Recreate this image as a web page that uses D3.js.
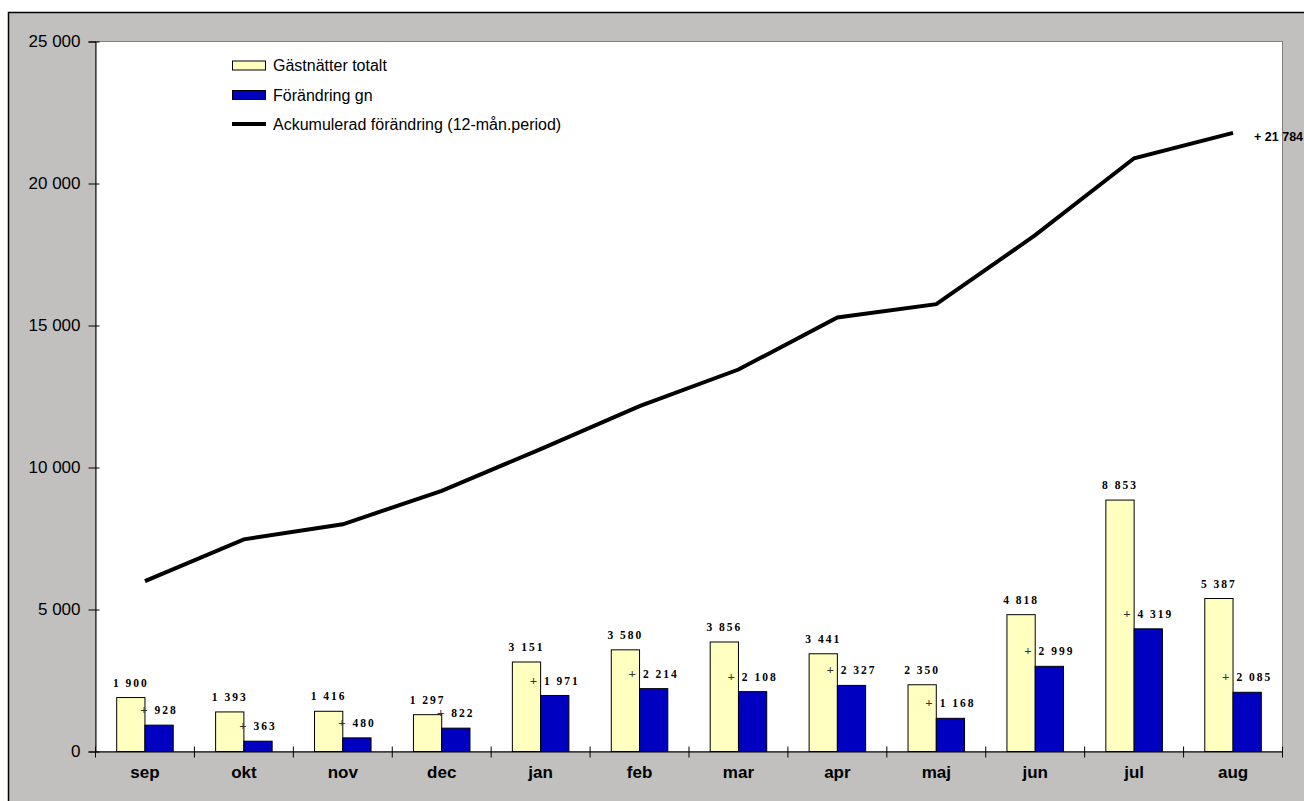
<!DOCTYPE html>
<html>
<head>
<meta charset="utf-8">
<script src="https://cdn.jsdelivr.net/npm/d3@7"></script>
<style>
  html, body { margin: 0; padding: 0; background: #c1c0bf; }
  svg { display: block; }
</style>
</head>
<body>
<svg id="chart" width="1304" height="801"></svg>
<script>
const months = ["sep","okt","nov","dec","jan","feb","mar","apr","maj","jun","jul","aug"];
const gastnatter = [1900,1393,1416,1297,3151,3580,3856,3441,2350,4818,8853,5387];
const forandring = [928,363,480,822,1971,2214,2108,2327,1168,2999,4319,2085];
const ackumulerad = [6000,7470,8000,9180,10650,12160,13450,15280,15750,18180,20890,21784];
const yTicks = [0,5000,10000,15000,20000,25000];
const legendLabels = ["Gästnätter totalt","Förändring gn","Ackumulerad förändring (12-mån.period)"];
const endLabel = "+ 21 784";

const svg = d3.select("#chart");
const W = 1304, H = 801;
const plot = {left: 95.5, top: 41.5, right: 1282.5, bottom: 751.5};

const loc = d3.formatLocale({decimal: ",", thousands: " ", grouping: [3], currency: ["", ""]});
const fmt = loc.format(",d");

// outside the chart frame (white)
svg.append("rect").attr("x", 0).attr("y", 0).attr("width", W).attr("height", 12).attr("fill", "#ffffff");
svg.append("rect").attr("x", 0).attr("y", 0).attr("width", 8).attr("height", H).attr("fill", "#ffffff");
// chart area background
svg.append("rect").attr("x", 8.5).attr("y", 12.5).attr("width", W).attr("height", H)
  .attr("fill", "#c1c0bf").attr("stroke", "#000").attr("stroke-width", 1.5);

// plot area
svg.append("rect").attr("x", plot.left).attr("y", plot.top)
  .attr("width", plot.right - plot.left).attr("height", plot.bottom - plot.top)
  .attr("fill", "#ffffff").attr("stroke", "#808080").attr("stroke-width", 1);

const x = d3.scaleBand().domain(months).range([plot.left, plot.right]).padding(0);
const y = d3.scaleLinear().domain([0, 25000]).range([plot.bottom, plot.top]);
const bw = x.bandwidth() / 3.5;

// bars
const groups = svg.append("g").selectAll("g").data(months).join("g");
groups.append("rect")
  .attr("x", (d) => x(d) + x.bandwidth() / 2 - bw)
  .attr("y", (d, i) => y(gastnatter[i]))
  .attr("width", bw)
  .attr("height", (d, i) => y(0) - y(gastnatter[i]))
  .attr("fill", "#ffffc0").attr("stroke", "#000").attr("stroke-width", 1);
groups.append("rect")
  .attr("x", (d) => x(d) + x.bandwidth() / 2)
  .attr("y", (d, i) => y(forandring[i]))
  .attr("width", bw)
  .attr("height", (d, i) => y(0) - y(forandring[i]))
  .attr("fill", "#0000c0").attr("stroke", "#000").attr("stroke-width", 1);

// bar labels
groups.append("text")
  .attr("x", (d) => x(d) + x.bandwidth() / 2 - bw / 2)
  .attr("y", (d, i) => y(gastnatter[i]) - 11)
  .attr("text-anchor", "middle")
  .attr("font-family", "'Liberation Serif', 'Times New Roman', serif")
  .attr("font-weight", "bold").attr("font-size", 11.5)
  .attr("letter-spacing", 2)
  .attr("fill", "#000")
  .text((d, i) => fmt(gastnatter[i]));
const bl = groups.append("text")
  .attr("x", (d) => x(d) + x.bandwidth() / 2 + bw / 2)
  .attr("y", (d, i) => y(forandring[i]) - 11)
  .attr("text-anchor", "middle")
  .attr("font-family", "'Liberation Serif', 'Times New Roman', serif")
  .attr("font-weight", "bold").attr("font-size", 11.5)
  .attr("letter-spacing", 2)
  .attr("fill", "#000");
bl.append("tspan").attr("fill", "#333").attr("font-size", 13).text("+");
bl.append("tspan").text((d, i) => " " + fmt(forandring[i]));

// line
const line = d3.line().x((d, i) => x(months[i]) + x.bandwidth() / 2).y((d) => y(d));
svg.append("path").datum(ackumulerad).attr("d", line)
  .attr("fill", "none").attr("stroke", "#000").attr("stroke-width", 4).attr("stroke-linejoin", "miter");

// y axis
const yAxis = svg.append("g").attr("transform", `translate(${plot.left},0)`)
  .call(d3.axisLeft(y).tickValues(yTicks).tickFormat(fmt).tickSize(7).tickPadding(8));
yAxis.select(".domain").attr("stroke", "#000");
yAxis.selectAll(".tick line").attr("x1", 4).attr("x2", -7).attr("stroke", "#000");
yAxis.selectAll(".tick text")
  .attr("font-family", "'Liberation Sans', Arial, sans-serif").attr("font-size", 17).attr("fill", "#000");

// x axis
const xAxis = svg.append("g").attr("transform", `translate(0,${plot.bottom})`)
  .call(d3.axisBottom(x).tickSize(0).tickPadding(14));
xAxis.select(".domain").attr("stroke", "#000");
xAxis.selectAll(".tick text")
  .attr("font-family", "'Liberation Sans', Arial, sans-serif").attr("font-size", 17)
  .attr("font-weight", "bold").attr("fill", "#000");
const boundaries = months.map((m) => x(m)).concat([x.range()[1]]);
svg.append("g").selectAll("line").data(boundaries).join("line")
  .attr("x1", (d) => d).attr("x2", (d) => d)
  .attr("y1", plot.bottom - 5).attr("y2", plot.bottom + 6)
  .attr("stroke", "#000").attr("stroke-width", 1);

// end label
svg.append("text")
  .attr("x", x(months[11]) + x.bandwidth() / 2 + 21)
  .attr("y", y(ackumulerad[11]) + 8.5)
  .attr("font-family", "'Liberation Sans', Arial, sans-serif")
  .attr("font-weight", "bold").attr("font-size", 12.5).attr("fill", "#000")
  .text(endLabel);

// legend
const lg = svg.append("g").attr("transform", "translate(232,0)");
const rows = [65.5, 95, 124];
lg.append("rect").attr("x", 0.5).attr("y", 61).attr("width", 33).attr("height", 9)
  .attr("fill", "#ffffc0").attr("stroke", "#000").attr("stroke-width", 1);
lg.append("rect").attr("x", 0.5).attr("y", 90.5).attr("width", 33).attr("height", 9)
  .attr("fill", "#0000c0").attr("stroke", "#000").attr("stroke-width", 1);
lg.append("line").attr("x1", 0).attr("x2", 34).attr("y1", 124).attr("y2", 124)
  .attr("stroke", "#000").attr("stroke-width", 4);
lg.selectAll("text").data(legendLabels).join("text")
  .attr("x", 41).attr("y", (d, i) => rows[i] + 5.5)
  .attr("font-family", "'Liberation Sans', Arial, sans-serif").attr("font-size", 16).attr("fill", "#000")
  .text((d) => d);
</script>
</body>
</html>
